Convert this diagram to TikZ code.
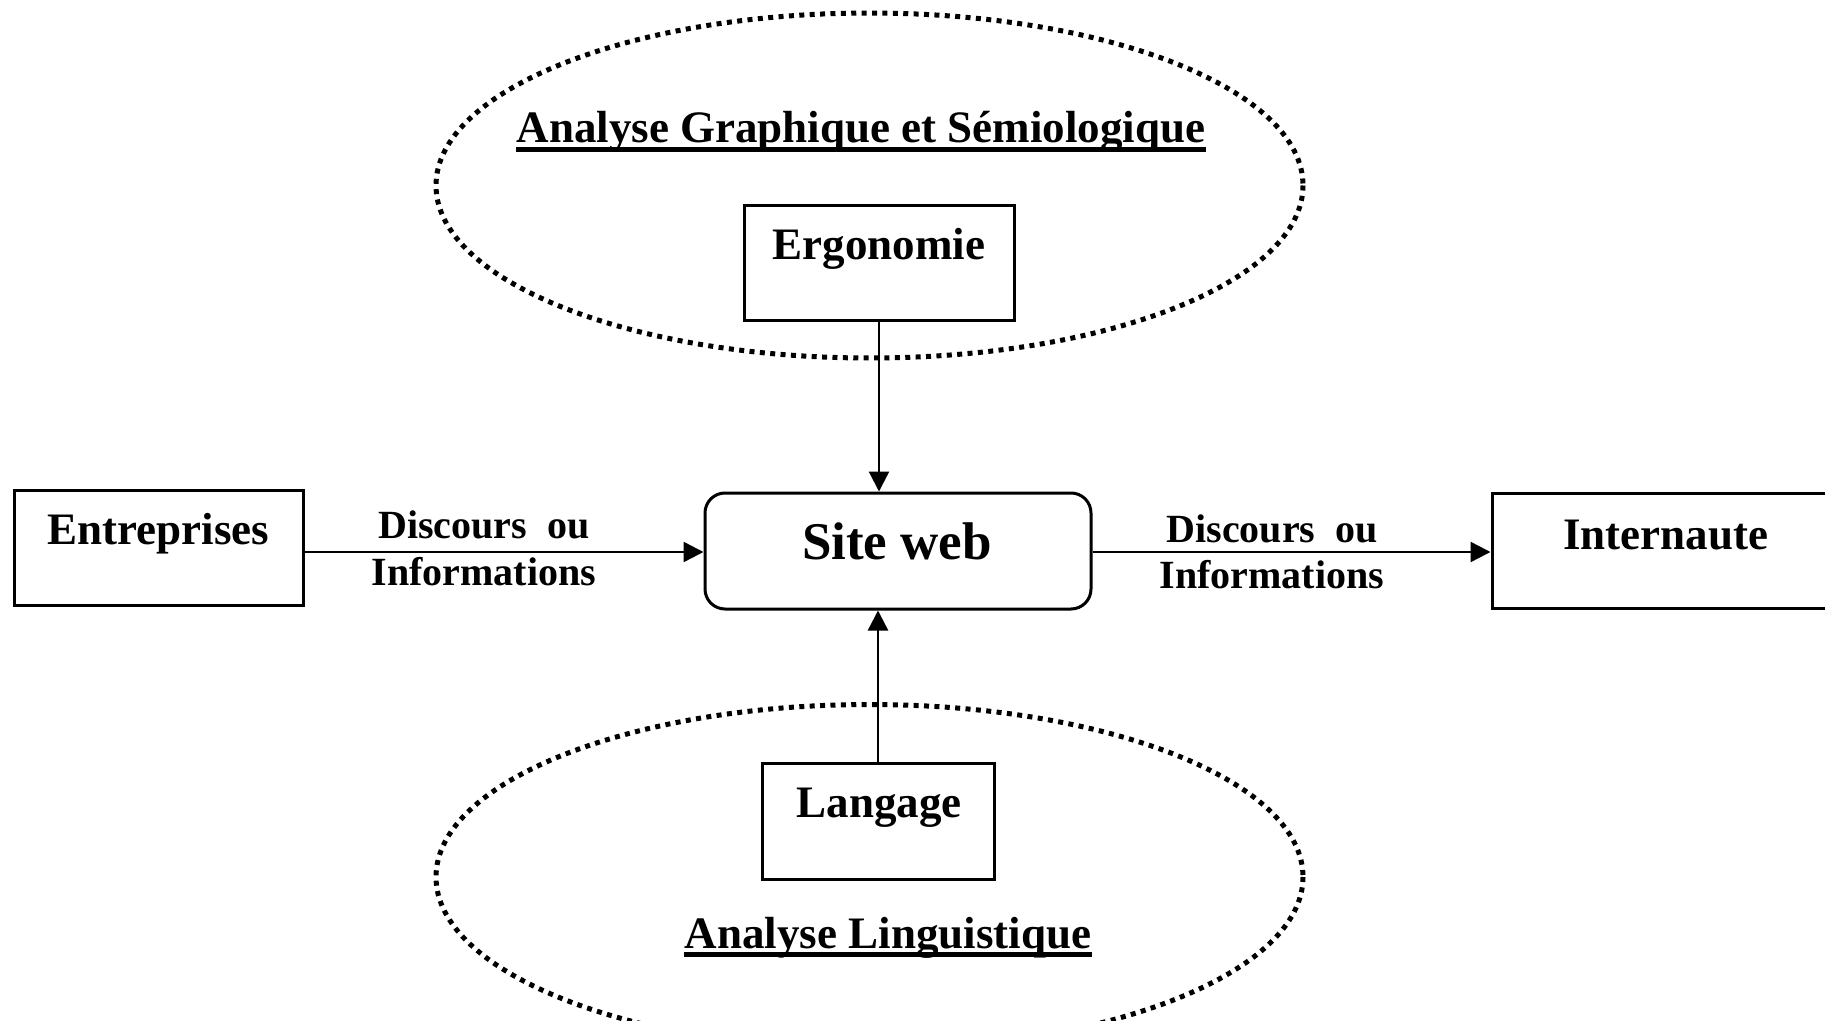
\documentclass[tikz,border=0pt]{standalone}
\usepackage{fontspec}
\setmainfont{Liberation Serif}
\usetikzlibrary{arrows.meta}
\tikzset{
  box/.style={draw, line width=1.5pt, rectangle, inner sep=0pt},
  txt/.style={font=\bfseries\fontsize{22.5}{27}\selectfont, inner sep=0pt, anchor=base},
  big/.style={font=\bfseries\fontsize{26.5}{32}\selectfont, inner sep=0pt, anchor=base},
  lbl/.style={font=\bfseries\fontsize{20}{24}\selectfont, inner sep=0pt, anchor=base},
  conn/.style={line width=1.2pt, -{Triangle[length=10pt,width=10pt]}},
  dots/.style={line width=2.5pt, dash pattern=on 2.5pt off 2.7pt},
  uline/.style={line width=2.5pt}
}
\begin{document}
\begin{tikzpicture}[x=0.5pt,y=-0.5pt]
\useasboundingbox (0,0) rectangle (1825,1021);
% ellipses
\draw[dots] (869.5,185.5) ellipse [x radius=433.5, y radius=172.5];
\draw[dots] (869.5,877) ellipse [x radius=433.5, y radius=172.5];
% titles
\node[txt] (t1) at (861,143) {Analyse Graphique et Sémiologique};
\draw[uline] ([yshift=-3.3pt]t1.base west) -- ([yshift=-3.3pt]t1.base east);
\node[txt] (t2) at (888,948) {Analyse Linguistique};
\draw[uline] ([yshift=-3.3pt]t2.base west) -- ([yshift=-3.3pt]t2.base east);
% boxes
\node[box, minimum width=135pt, minimum height=57.5pt] (erg) at (879,263.5) {};
\node[txt] (ergt) at (879,260) {Ergonomie};
\node[box, minimum width=116pt, minimum height=58pt] (lang) at (878,821) {};
\node[txt] (langt) at (879,817) {Langage};
\node[box, rounded corners=10pt, minimum width=193pt, minimum height=58pt] (site) at (898,551) {};
\node[big] (sitet) at (897,559) {Site web};
\node[box, minimum width=144.5pt, minimum height=57.5pt] (ent) at (158.5,547.5) {};
\node[txt] (entt) at (158.5,544) {Entreprises};
\node[box, minimum width=173.5pt, minimum height=57.5pt] (int) at (1665.5,550.5) {};
\node[txt] (intt) at (1665.5,549) {Internaute};
% connectors
\draw[conn] (erg.south) -- (site.north -| erg.south);
\draw[conn] (lang.north) -- (site.south -| lang.north);
\draw[conn] (ent.east |- 0,552) -- (site.west |- 0,552);
\draw[conn] (site.east |- 0,552) -- (int.west |- 0,552);
% labels
\node[lbl] (l1a) at (484,538) {Discours\ \ ou};
\node[lbl] (l1b) at (484,585) {Informations};
\node[lbl] (l2a) at (1272,542) {Discours\ \ ou};
\node[lbl] (l2b) at (1272,588) {Informations};
\end{tikzpicture}
\end{document}
